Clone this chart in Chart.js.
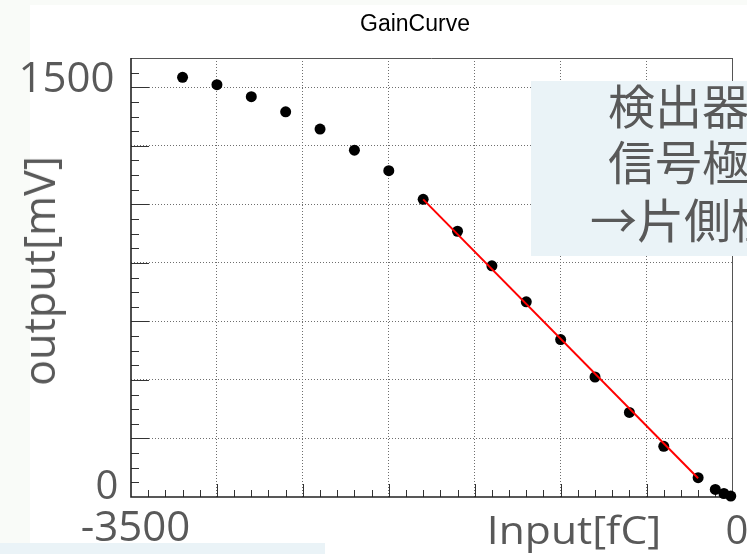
<!DOCTYPE html>
<html>
<head>
<meta charset="utf-8">
<script src="https://cdn.jsdelivr.net/npm/chart.js@4.4.1/dist/chart.umd.min.js"></script>
<style>
  body { margin: 0; width: 747px; height: 554px; overflow: hidden; position: relative; background: #fff; }
  #c { position: absolute; left: 0; top: 0; }
  .strip { position: absolute; background: #f9fbf8; }
  .t { position: absolute; font-family: "Open Sans", sans-serif; color: #595959; line-height: 1; white-space: nowrap; }
  .jp { position: absolute; font-family: "Noto Sans CJK JP", sans-serif; color: #595959; font-size: 47px; line-height: 1; white-space: nowrap; }
  .box { position: absolute; background: #eaf3f7; }
</style>
</head>
<body>
<div class="strip" style="left:0;top:0;width:30px;height:554px"></div>
<div class="strip" style="left:0;top:0;width:747px;height:5px"></div>
<canvas id="c" width="747" height="554"></canvas>

<!-- overlay labels (slide text boxes) -->
<div class="t" style="font-family:'Liberation Sans',Arial,sans-serif;color:#000;font-size:23px;left:415px;top:12px;transform:translateX(-50%)">GainCurve</div>
<div class="t" style="font-size:42px;left:66.5px;top:76px;transform:translate(-50%,-50%)">1500</div>
<div class="t" style="font-size:40px;left:107px;top:484px;transform:translate(-50%,-50%)">0</div>
<div class="t" style="font-size:42px;left:135.5px;top:525px;transform:translate(-50%,-50%)">-3500</div>
<div class="t" style="font-size:38px;left:574px;top:529px;transform:translate(-50%,-50%) scaleX(1.12)">Input[fC]</div>
<div class="t" style="font-size:40px;left:737px;top:529px;transform:translate(-50%,-50%)">0</div>
<div class="t" style="font-size:44px;left:38px;top:271px;transform:translate(-50%,-50%) rotate(-90deg) scaleX(0.98)">output[mV]</div>

<div class="box" style="left:531px;top:81px;width:230px;height:175px"></div>
<div class="jp" style="left:608px;top:80px">検出器</div>
<div class="jp" style="left:608px;top:136px">信号極</div>
<div class="jp" style="left:590px;top:194px">→片側極</div>
<div class="box" style="left:0;top:543px;width:325px;height:11px"></div>

<script>
// --- DATA ---
const inputFC = [-3200, -3000, -2800, -2600, -2400, -2200, -2000, -1800, -1600, -1400,
                 -1200, -1000, -800, -600, -400, -200, -100, -50, -10];
const outputMV = [1434, 1409, 1368, 1316, 1257, 1185, 1115, 1017, 908, 790,
                  667, 538, 410, 289, 173, 66, 26, 12, 3];

// linear fit drawn from -1800 to -200
const fitX = [-1800, -200];
const fitY = [1017, 64];

// axis ranges and grid positions
const xRange = [-3500, 0];
const yRange = [0, 1500];
const xGrid = [-3000, -2500, -2000, -1500, -1000, -500];
const yGrid = [200, 400, 600, 800, 1000, 1200, 1400];
const xMinorStep = 100;
const yMinorStep = 50;

// --- FRAME + ROOT STYLE TICKS ---
const rootFrame = {
    id: 'rootFrame',
    beforeDatasetsDraw(chart) {
        const { ctx, chartArea: a, scales } = chart;
        const x = scales.x, y = scales.y;
        ctx.save();

        // top / right edges
        ctx.strokeStyle = '#555';
        ctx.lineWidth = 1;
        ctx.beginPath();
        ctx.moveTo(a.left, a.top + 0.5);
        ctx.lineTo(a.right, a.top + 0.5);
        ctx.moveTo(a.right, a.top);
        ctx.lineTo(a.right, a.bottom);
        ctx.stroke();

        // y ticks
        ctx.strokeStyle = '#333';
        ctx.lineWidth = 1;
        ctx.beginPath();
        for (let v = yRange[0] + yMinorStep; v < yRange[1]; v += yMinorStep) {
            const py = Math.round(y.getPixelForValue(v)) + 0.5;
            const len = yGrid.includes(v) ? 18 : 8;
            ctx.moveTo(a.left, py);
            ctx.lineTo(a.left + len, py);
        }
        // x ticks
        for (let v = xRange[0] + xMinorStep; v < xRange[1]; v += xMinorStep) {
            const px = Math.round(x.getPixelForValue(v)) + 0.5;
            const len = xGrid.includes(v) ? 13 : 7;
            ctx.moveTo(px, a.bottom);
            ctx.lineTo(px, a.bottom - len);
        }
        ctx.stroke();

        // left / bottom axes
        ctx.strokeStyle = '#222';
        ctx.lineWidth = 1.6;
        ctx.beginPath();
        ctx.moveTo(a.left, a.top);
        ctx.lineTo(a.left, a.bottom);
        ctx.lineTo(a.right, a.bottom);
        ctx.stroke();

        ctx.restore();
    }
};

const points = inputFC.map((v, i) => ({ x: v, y: outputMV[i] }));
const fitLine = fitX.map((v, i) => ({ x: v, y: fitY[i] }));

new Chart(document.getElementById('c'), {
    type: 'scatter',
    data: {
        datasets: [
            {
                label: 'data',
                data: points,
                backgroundColor: '#000',
                borderWidth: 0,
                pointRadius: 5.5,
                clip: false,
                order: 2
            },
            {
                label: 'fit',
                data: fitLine,
                showLine: true,
                borderColor: '#ff0000',
                borderWidth: 2,
                pointRadius: 0,
                order: 1
            }
        ]
    },
    options: {
        responsive: false,
        animation: false,
        events: [],
        layout: { padding: { left: 131, right: 14.5, top: 58, bottom: 57 } },
        plugins: { legend: { display: false }, title: { display: false }, tooltip: { enabled: false } },
        scales: {
            x: {
                type: 'linear',
                min: xRange[0],
                max: xRange[1],
                afterBuildTicks: s => { s.ticks = xGrid.map(v => ({ value: v })); },
                afterFit: s => { s.height = 0; },
                ticks: { display: false },
                grid: { color: '#6e6e6e', lineWidth: 1, drawTicks: false },
                border: { display: false, dash: [1, 2] }
            },
            y: {
                type: 'linear',
                min: yRange[0],
                max: yRange[1],
                afterBuildTicks: s => { s.ticks = yGrid.map(v => ({ value: v })); },
                afterFit: s => { s.width = 0; },
                ticks: { display: false },
                grid: { color: '#6e6e6e', lineWidth: 1, drawTicks: false },
                border: { display: false, dash: [1, 2] }
            }
        }
    },
    plugins: [rootFrame]
});
</script>
</body>
</html>
